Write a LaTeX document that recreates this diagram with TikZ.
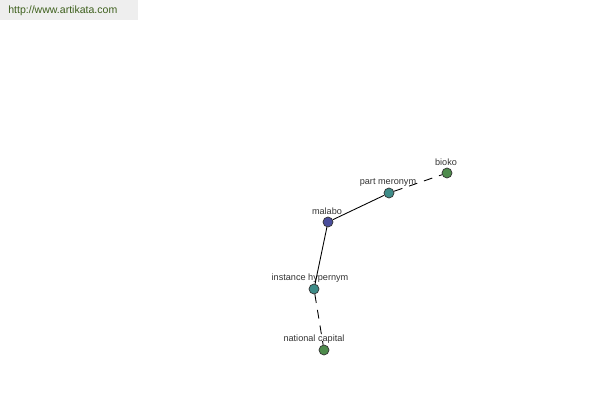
\documentclass[tikz,border=0pt]{standalone}
\usepackage{fontspec}
\setmainfont{Liberation Sans}
\usepackage{tikz}
\usetikzlibrary{positioning}
\usepackage{xcolor}
\definecolor{HeadBg}{HTML}{EEEEEE}
\definecolor{HeadText}{HTML}{3D5F1C}
\definecolor{CenterBlue}{HTML}{4A4E9C}
\definecolor{RelTeal}{HTML}{3E8C88}
\definecolor{LeafGreen}{HTML}{4E8B4C}
\definecolor{LabelGray}{HTML}{333333}

\begin{document}
\begin{tikzpicture}[x=0.02cm, y=-0.02cm,
    dot/.style={circle, draw=black!80, line width=0.4pt, minimum size=0.2cm, inner sep=0pt},
    centerdot/.style={dot, fill=CenterBlue},
    reldot/.style={dot, fill=RelTeal},
    leafdot/.style={dot, fill=LeafGreen},
    lbl/.style={font=\fontsize{5.2}{6}\selectfont, text=LabelGray, inner sep=1pt},
    link/.style={draw=black, line width=0.5pt},
    dlink/.style={link, dash pattern=on 5pt off 4pt}
  ]
    \useasboundingbox (0,0) rectangle (600,400);
    \fill[white] (0,0) rectangle (600,400);
    \fill[HeadBg] (0,0) rectangle (138,20);
    \node[font=\fontsize{6}{7}\selectfont, text=HeadText, anchor=west, inner sep=0pt] (site) at (8,11) {http://www.artikata.com};

    \node[centerdot] (malabo) at (328,222) {};
    \node[reldot] (meronym) at (389,193) {};
    \node[leafdot] (bioko) at (447,173) {};
    \node[reldot] (hypernym) at (314,289) {};
    \node[leafdot] (capital) at (324,350) {};

    \node[lbl] (malabo-l) at (327,211) {malabo};
    \node[lbl] (meronym-l) at (388,182) {part meronym};
    \node[lbl] (bioko-l) at (446,162) {bioko};
    \node[lbl] (hypernym-l) at (310,278) {instance hypernym};
    \node[lbl] (capital-l) at (314,339) {national capital};

    \draw[link] (malabo) -- (meronym);
    \draw[dlink] (meronym) -- (bioko);
    \draw[link] (malabo) -- (hypernym);
    \draw[dlink] (hypernym) -- (capital);
  \end{tikzpicture}
\end{document}
